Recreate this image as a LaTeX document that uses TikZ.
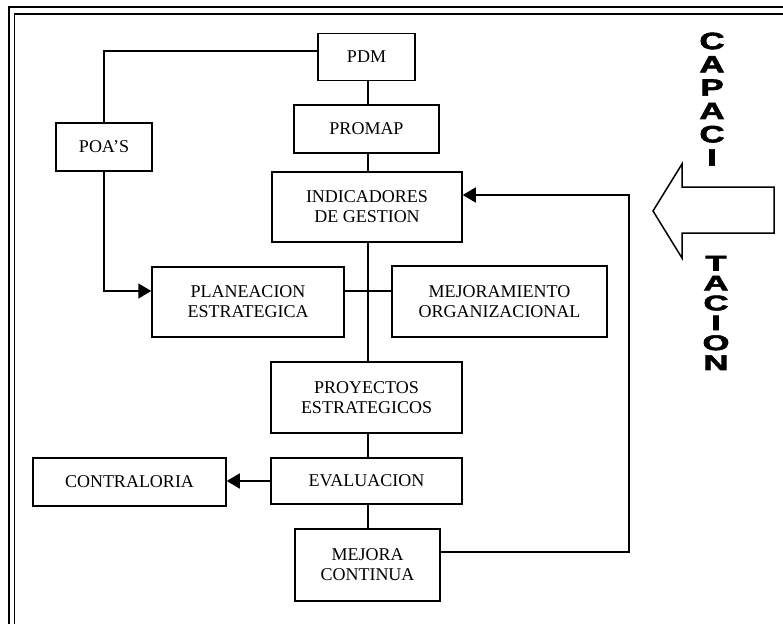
\documentclass[tikz,border=0pt]{standalone}
\usepackage{fontspec}
\setmainfont{Liberation Serif}
\newfontfamily\heavysans[BoldFeatures={FakeBold=2.5}]{Liberation Sans}
\usetikzlibrary{arrows.meta}
\tikzset{
  box/.style={draw, line width=1.5pt, inner sep=0pt, align=center, font=\fontsize{18}{20}\selectfont},
  conn/.style={draw, line width=1.5pt},
  arr/.style={conn, -{Triangle[length=13pt,width=15pt]}},
  vletter/.style={font=\heavysans\bfseries\fontsize{21}{21}\selectfont, xscale=1.65, yscale=1.12, inner sep=0pt},
  vletterlow/.style={vletter, yscale=0.9}
}
\begin{document}
\begin{tikzpicture}[x=1pt,y=-1pt]
\useasboundingbox (0,0) rectangle (783,623);
% frame
\draw[line width=2.2pt] (9,700) -- (9,7) -- (800,7);
\draw[line width=1.8pt] (14.5,700) -- (14.5,14) -- (800,14);
% boxes
\node[box, minimum width=97pt, minimum height=47pt] (pdm) at (366.5,57) {PDM};
\node[box, minimum width=145pt, minimum height=48pt] (promap) at (366.5,129) {PROMAP};
\node[box, minimum width=190pt, minimum height=70pt] (ind) at (367,207) {INDICADORES\\DE GESTION};
\node[box, minimum width=96pt, minimum height=48pt] (poas) at (104,147) {POA'S};
\node[box, minimum width=192pt, minimum height=70pt] (plan) at (248,302) {PLANEACION\\ESTRATEGICA};
\node[box, minimum width=215pt, minimum height=71pt] (mej) at (499.5,301.5) {MEJORAMIENTO\\ORGANIZACIONAL};
\node[box, minimum width=191pt, minimum height=71pt] (proy) at (366.5,397.5) {PROYECTOS\\ESTRATEGICOS};
\node[box, minimum width=191pt, minimum height=46pt] (eval) at (366.5,481) {EVALUACION};
\node[box, minimum width=193pt, minimum height=48pt] (contra) at (129.5,482) {CONTRALORIA};
\node[box, minimum width=145pt, minimum height=72pt] (mc) at (367.5,565) {MEJORA\\CONTINUA};
% connectors
\coordinate (c1) at (104,51);
\coordinate (c2) at (104,291);
\coordinate (c3) at (629,552);
\coordinate (c4) at (629,195);
\draw[conn] (pdm.south -| 368,0) -- (promap.north -| 368,0);
\draw[conn] (promap.south -| 368,0) -- (ind.north -| 368,0);
\draw[conn] (ind.south -| 368,0) -- (proy.north -| 368,0);
\draw[conn] (proy.south -| 368,0) -- (eval.north -| 368,0);
\draw[conn] (eval.south -| 368,0) -- (mc.north -| 368,0);
\draw[conn] (plan.east |- c2) -- (mej.west |- c2);
\draw[conn] (pdm.west |- c1) -- (c1) -- (poas.north);
\draw[arr] (poas.south) -- (c2) -- (plan.west |- c2);
\draw[arr] (eval.west) -- (contra.east |- eval.west);
\draw[arr] (mc.east |- c3) -- (c3) -- (c4) -- (ind.east |- c4);
% big arrow
\draw[line width=1.5pt, fill=white] (774,187) -- (682,187) -- (682,164) -- (653,211) -- (682,258) -- (682,233) -- (774,233) -- cycle;
% vertical text
\foreach \l [count=\i] in {C,A,P,A,C,I}
  \node[vletter] (capa\i) at (712, 17.7+\i*23.3) {\l};
\foreach \l [count=\i] in {T,A,C,I,O,N}
  \node[vletterlow] (taci\i) at (716, 243.3+\i*19.9) {\l};
\end{tikzpicture}
\end{document}
